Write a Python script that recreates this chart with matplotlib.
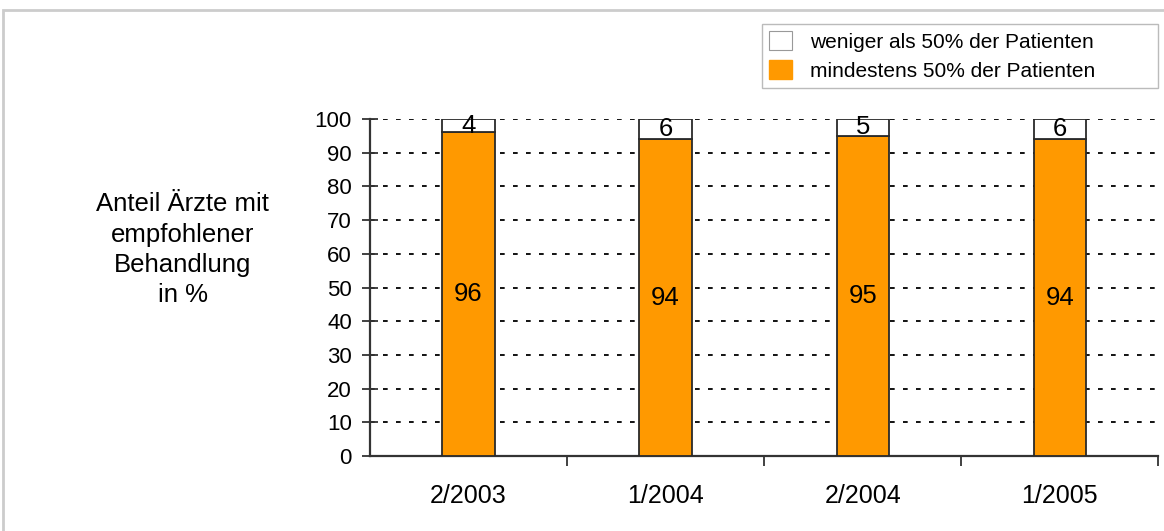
import matplotlib
matplotlib.use("Agg")
import matplotlib.pyplot as plt
from matplotlib.patches import Rectangle, Patch

plt.rcParams["font.family"] = ["Liberation Sans", "DejaVu Sans"]

# survey waves and share of physicians (percent)
periods = ["2/2003", "1/2004", "2/2004", "1/2005"]
at_least_half = [96, 94, 95, 94]
less_than_half = [4, 6, 5, 6]

ORANGE = "#FF9900"

fig = plt.figure(figsize=(11.64, 5.31), dpi=100)
ax = fig.add_axes([0.3179, 0.1412, 0.6771, 0.6347])

x = list(range(len(periods)))
w = 0.265
ax.bar(x, at_least_half, width=w, color=ORANGE, edgecolor="#2a2a2a", linewidth=1.3, zorder=3)
ax.bar(x, less_than_half, width=w, bottom=at_least_half, color="white",
       edgecolor="#2a2a2a", linewidth=1.3, zorder=3)

for xi, lo, hi in zip(x, at_least_half, less_than_half):
    ax.text(xi, lo / 2, str(lo), ha="center", va="center", fontsize=18.5, zorder=4)
    ax.text(xi, lo + hi / 2, str(hi), ha="center", va="center", fontsize=18.5, zorder=4)

ax.set_xlim(-0.5, len(periods) - 0.5)
ax.set_ylim(0, 100)
ax.set_yticks(range(0, 101, 10))
ax.yaxis.grid(True, color="black", linestyle=(0, (2.6, 4.6)), linewidth=1.3, zorder=1)
ax.set_axisbelow(True)

# category labels sit between the boundary ticks
ax.set_xticks([i + 0.5 for i in x])
ax.set_xticklabels([])
ax.set_xticks(x, minor=True)
ax.set_xticklabels(periods, minor=True, fontsize=18)
ax.tick_params(axis="x", which="minor", length=0, pad=20)
ax.tick_params(axis="x", which="major", direction="out", length=7, width=1.3, color="#333333")
ax.tick_params(axis="y", direction="inout", length=12, width=1.3, color="#333333",
               labelsize=16, pad=7)

for side in ["top", "right"]:
    ax.spines[side].set_visible(False)
for side in ["left", "bottom"]:
    ax.spines[side].set_linewidth(1.6)
    ax.spines[side].set_color("#333333")

fig.text(0.157, 0.53, "Anteil Ärzte mit\nempfohlener\nBehandlung\nin %",
         ha="center", va="center", fontsize=18.5, linespacing=1.32)

handles = [Patch(facecolor="white", edgecolor="#999999", linewidth=0.8),
           Patch(facecolor=ORANGE, edgecolor=ORANGE)]
leg = fig.legend(handles, ["weniger als 50% der Patienten", "mindestens 50% der Patienten"],
                 loc="upper left", bbox_to_anchor=(762 / 1164, 1 - 88 / 531, 396 / 1164, 64 / 531),
                 mode="expand", fontsize=15,
                 frameon=True, fancybox=False, borderpad=0.35, handlelength=1.1,
                 handleheight=1.0, handletextpad=0.85, labelspacing=0.4, borderaxespad=0)
leg.get_frame().set_edgecolor("#aaaaaa")
leg.get_frame().set_linewidth(1.0)
leg._legend_box.align = "left"
leg._legend_handle_box.sep = 0

# outer frame around the chart area
fig.patches.append(Rectangle((0.003, -0.1), 1.1, 1.081, transform=fig.transFigure,
                             fill=False, edgecolor="#cccccc", linewidth=2.0))

fig.savefig("out.png", dpi=100, facecolor="white")
